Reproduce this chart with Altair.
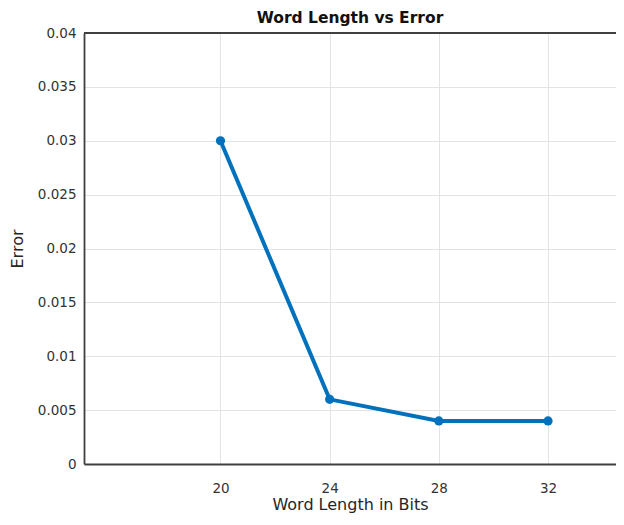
import altair as alt
import pandas as pd

word_length = [20, 24, 28, 32]
error = [0.03, 0.006, 0.004, 0.004]
x_ticks = [20, 24, 28, 32]
y_ticks = [0, 0.005, 0.01, 0.015, 0.02, 0.025, 0.03, 0.035, 0.04]
x_domain = [15, 34.49]
y_domain = [0, 0.04]
top_border = [0.04]

df = pd.DataFrame({"wl": word_length, "err": error})
border_df = pd.DataFrame({"y": top_border})

FONT = "DejaVu Sans"
AX = "#404040"

x_enc = alt.X(
    "wl:Q",
    scale=alt.Scale(domain=x_domain, nice=False, zero=False),
    axis=alt.Axis(
        values=x_ticks, title="Word Length in Bits", grid=True, ticks=False,
        labelPadding=17, titlePadding=2, labelFontSize=13.5, titleFontSize=16,
        labelColor="#333333", titleColor="#262626", titleFontWeight="normal",
        domainColor=AX, domainWidth=1.8, gridColor="#e3e3e3", gridWidth=1,
        labelFont=FONT, titleFont=FONT,
    ),
)
y_enc = alt.Y(
    "err:Q",
    scale=alt.Scale(domain=y_domain, nice=False),
    axis=alt.Axis(
        values=y_ticks, format=".3~f", title="Error", grid=True, ticks=False,
        labelPadding=8, titlePadding=12, labelFontSize=13.5, titleFontSize=16,
        labelColor="#333333", titleColor="#262626", titleFontWeight="normal",
        domainColor=AX, domainWidth=1.8, gridColor="#e3e3e3", gridWidth=1,
        labelFont=FONT, titleFont=FONT,
    ),
)

line = alt.Chart(df).mark_line(
    color="#0072BD", strokeWidth=4,
    point=alt.OverlayMarkDef(filled=True, size=85, color="#0072BD"),
).encode(x=x_enc, y=y_enc)

border = alt.Chart(border_df).mark_rule(color=AX, strokeWidth=1.8).encode(
    y=alt.Y("y:Q")
)

chart = alt.layer(line, border).properties(
    width=532,
    height=431,
    title=alt.TitleParams(
        "Word Length vs Error", font=FONT, fontSize=15.5, fontWeight="bold",
        color="#111111", offset=0, anchor="middle",
    ),
    autosize=alt.AutoSizeParams(type="none"),
    padding={"left": 76, "top": 25, "right": 0, "bottom": 53},
).configure_view(stroke=None).configure(background="white")

chart.save("out.html", embed_options={"renderer": "svg", "actions": False})
